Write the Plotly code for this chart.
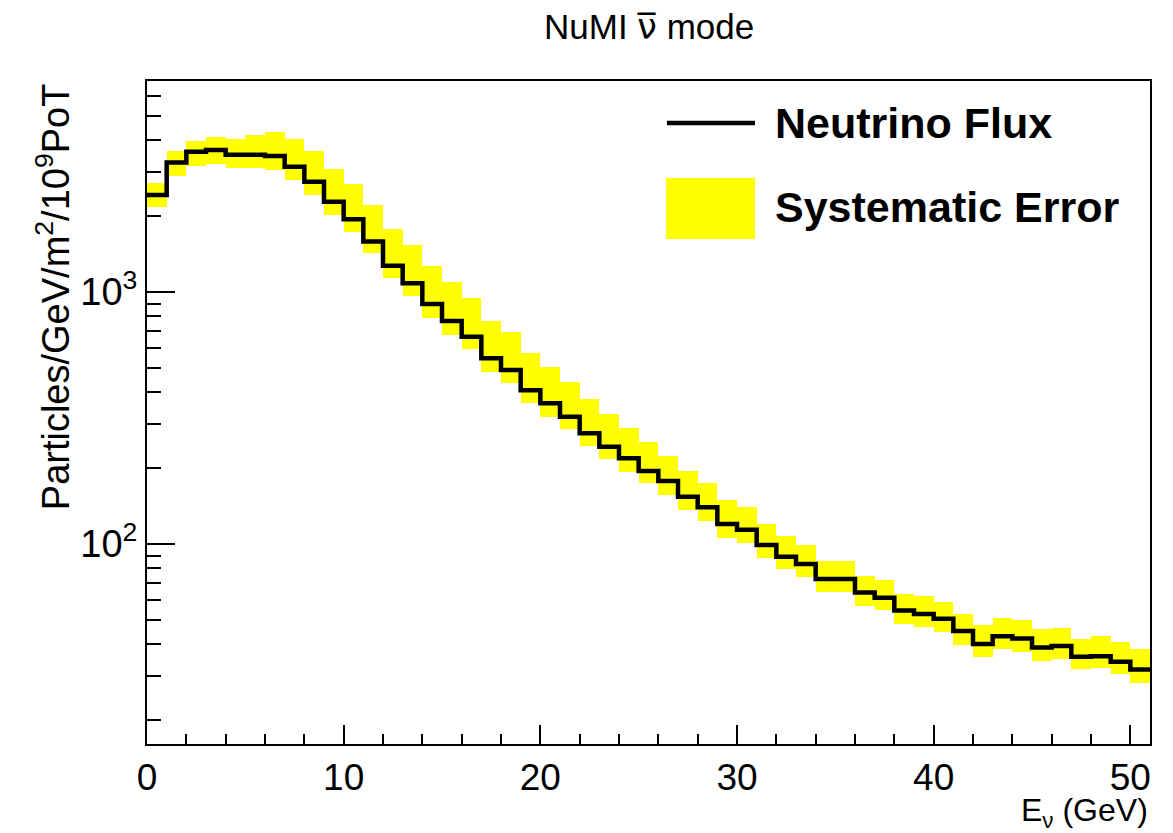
import plotly.graph_objects as go

# Bin edges: 1 GeV bins from 0 to 51 GeV
bin_lo = list(range(0, 51))
bin_hi = list(range(1, 52))

# Central flux values per bin (Particles/GeV/m^2/1e9 PoT)
flux = [2426, 3260, 3600, 3660, 3500, 3500, 3465, 3140, 2740, 2280,
        1945, 1585, 1270, 1083, 896, 767, 665, 546, 490, 408,
        362, 320, 275, 243, 219, 195, 178, 154, 140, 120,
        114, 99.1, 89.1, 83.3, 72.6, 72.6, 64.3, 61.2, 54.5, 52.8,
        50.5, 45.2, 40.1, 43.1, 42.2, 38.9, 39.4, 35.7, 35.9, 34.1,
        31.8]

# Systematic error band upper/lower edges per bin
err_hi = [2707, 3626, 3974, 4133, 4046, 4198, 4327, 4046, 3626, 3077,
          2683, 2215, 1778, 1536, 1268, 1096, 947, 767, 696, 571,
          503, 438, 375, 327, 288, 253, 223, 195, 174, 150,
          140, 120, 107.6, 98.8, 85.6, 85.6, 74.6, 72.0, 63.3, 62.2,
          58.9, 52.6, 47.6, 50.7, 49.9, 45.9, 46.3, 42.2, 43.1, 40.7,
          38.2]
err_lo = [2175, 2886, 3162, 3220, 3105, 3113, 3049, 2783, 2426, 2021,
          1735, 1424, 1133, 967, 791, 675, 593, 483, 437, 364,
          320, 285, 246, 217, 194, 174, 156.5, 137, 124, 106,
          101, 88.2, 79.6, 74.2, 64.6, 64.6, 56.9, 54.7, 48.4, 47.0,
          44.9, 39.7, 35.7, 38.2, 37.4, 34.4, 34.9, 31.8, 32.1, 30.4,
          28.2]

y_major = [100, 1000]
y_major_text = ["10<sup>2</sup>", "10<sup>3</sup>"]
y_minor = [20, 30, 40, 50, 60, 70, 80, 90,
           200, 300, 400, 500, 600, 700, 800, 900,
           2000, 3000, 4000, 5000, 6000]

FONT = "Liberation Sans, Arial, Helvetica, sans-serif"
YELLOW = "#ffff00"

centers = [(a + b) / 2 for a, b in zip(bin_lo, bin_hi)]
widths = [b - a for a, b in zip(bin_lo, bin_hi)]
heights = [h - l for h, l in zip(err_hi, err_lo)]

fig = go.Figure()
fig.add_trace(go.Bar(
    x=centers, y=heights, base=err_lo, width=widths,
    marker=dict(color=YELLOW, line=dict(width=0)),
    showlegend=False, hoverinfo="skip",
))
edges = bin_lo + [bin_hi[-1]]
fig.add_trace(go.Scatter(
    x=edges, y=flux + [flux[-1]], mode="lines",
    line=dict(color="black", width=4.5, shape="hv"),
    showlegend=False,
))

fig.update_layout(
    width=1173, height=833,
    margin=dict(l=147, r=23, t=81, b=89),
    paper_bgcolor="white", plot_bgcolor="white",
    font=dict(family=FONT, color="black", size=38),
    bargap=0,
    showlegend=False,
)
fig.update_xaxes(
    range=[0, 51], showgrid=False, zeroline=False,
    showline=True, linecolor="black", linewidth=2, mirror=True,
    ticks="inside", ticklen=19, tickwidth=1.5, tickcolor="black",
    tickmode="linear", tick0=0, dtick=10,
    minor=dict(ticks="inside", ticklen=10, tickwidth=1.5, tickcolor="black", dtick=2, tick0=0, showgrid=False),
    tickfont=dict(size=37, family=FONT),
)
fig.update_yaxes(
    type="log", range=[1.2068, 3.837], showgrid=False, zeroline=False,
    showline=True, linecolor="black", linewidth=2, mirror=True,
    ticks="inside", ticklen=28, tickwidth=1.5, tickcolor="black",
    tickmode="array", tickvals=y_major, ticktext=y_major_text,
    minor=dict(ticks="inside", ticklen=14, tickwidth=1.5, tickcolor="black",
               tickmode="array", tickvals=y_minor, showgrid=False),
    tickfont=dict(size=38, family=FONT),
)

# Title
fig.add_annotation(
    text='NuMI <span style="font-family:DejaVu Sans">ν\u0305</span> mode',
    xref="paper", yref="paper",
    x=0.5, y=1.081, xanchor="center", yanchor="middle",
    showarrow=False, font=dict(size=35, family=FONT))
# Axis titles
fig.add_annotation(text="E<sub>ν</sub> (GeV)", xref="paper", yref="paper",
                   x=1.0, y=-0.104, xanchor="right", yanchor="middle",
                   showarrow=False, font=dict(size=32, family=FONT))
fig.add_annotation(text="Particles/GeV/m<sup>2</sup>/10<sup>9</sup>PoT",
                   xref="paper", yref="paper", x=-0.094, y=1.0,
                   xanchor="center", yanchor="top", textangle=-90,
                   showarrow=False, font=dict(size=38, family=FONT))

# Legend (ROOT style)
fig.add_shape(type="line", xref="paper", yref="paper",
              x0=0.5184, x1=0.6062, y0=0.9367, y1=0.9367,
              line=dict(color="black", width=4.5))
fig.add_shape(type="rect", xref="paper", yref="paper",
              x0=0.5174, x1=0.6062, y0=0.7617, y1=0.8537,
              fillcolor=YELLOW, line=dict(width=0))
fig.add_annotation(text="<b>Neutrino Flux</b>", xref="paper", yref="paper",
                   x=0.6241, y=0.9367, xanchor="left", yanchor="middle",
                   showarrow=False, font=dict(size=43, family=FONT))
fig.add_annotation(text="<b>Systematic Error</b>", xref="paper", yref="paper",
                   x=0.6241, y=0.81, xanchor="left", yanchor="middle",
                   showarrow=False, font=dict(size=43, family=FONT))

fig.write_html("out.html")
